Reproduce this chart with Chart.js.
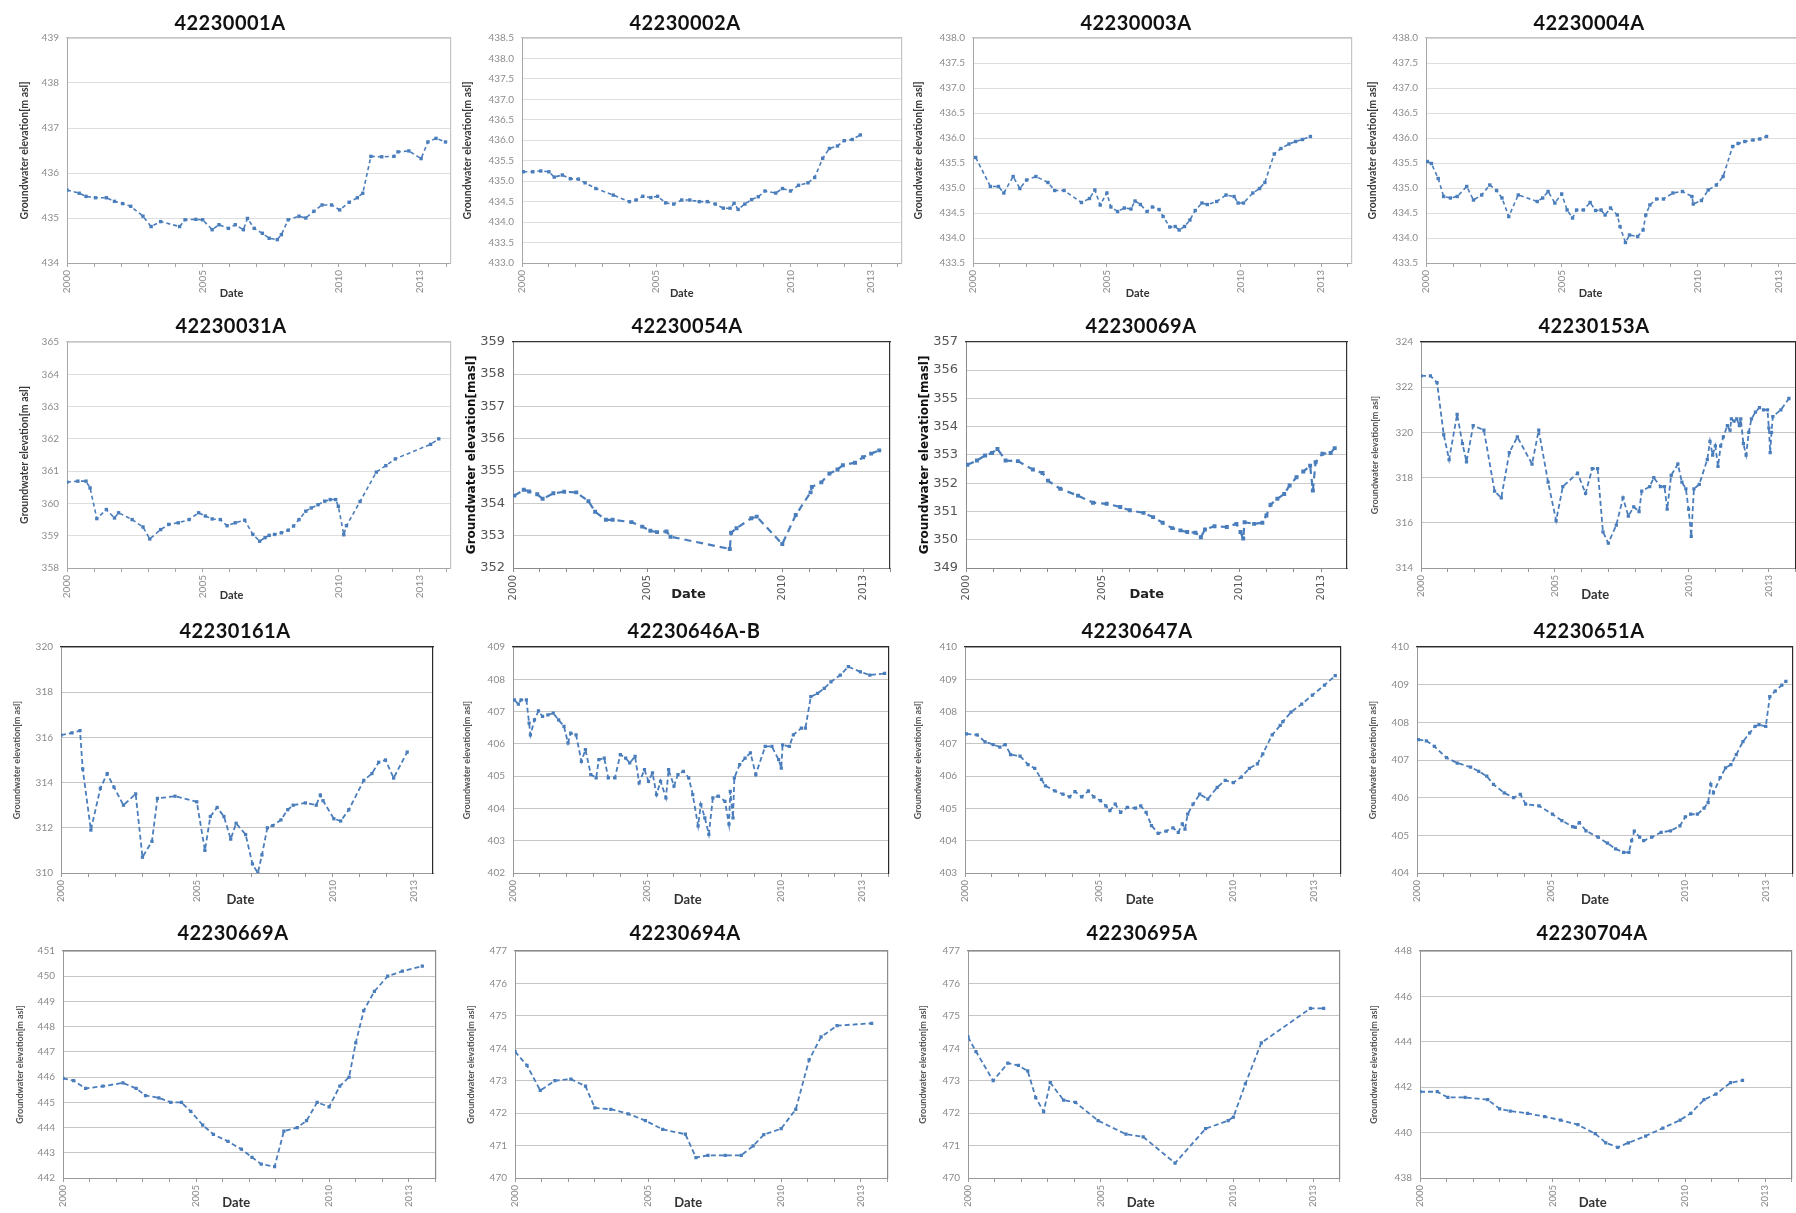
<!DOCTYPE html>
<html><head><meta charset="utf-8">
<script src="https://cdn.jsdelivr.net/npm/chart.js@4.4.1/dist/chart.umd.min.js"></script>
<style>
html,body{margin:0;padding:0;background:#fff;overflow:hidden;width:1796px;height:1213px;position:relative}
canvas{position:absolute}
.ttl{position:absolute;transform:translate(-50%,-50%);font-family:Lato,'Open Sans',sans-serif;font-weight:bold;font-size:20px;letter-spacing:0.5px;color:#111;white-space:nowrap}
</style></head><body>
<script>
// ---------- DATA ----------
const X_TICK_LABELS = [2000, 2005, 2010, 2013];
const YEARS = [2000,2001,2002,2003,2004,2005,2006,2007,2008,2009,2010,2011,2012,2013,2014];

const t_42230001A = [2000.0,2000.45,2000.7,2001.05,2001.45,2001.75,2002.05,2002.35,2002.8,2003.1,2003.45,2004.15,2004.35,2004.75,2005.0,2005.35,2005.6,2005.95,2006.2,2006.5,2006.65,2006.9,2007.2,2007.45,2007.75,2007.9,2008.15,2008.55,2008.8,2009.1,2009.4,2009.75,2010.05,2010.4,2010.7,2010.9,2011.2,2011.6,2012.05,2012.2,2012.6,2013.05,2013.3,2013.6,2013.95];
const v_42230001A = [435.62,435.55,435.48,435.45,435.45,435.37,435.32,435.26,435.04,434.81,434.92,434.81,434.96,434.97,434.96,434.74,434.85,434.77,434.85,434.74,434.99,434.77,434.66,434.55,434.52,434.63,434.96,435.04,435.0,435.15,435.29,435.29,435.18,435.35,435.45,435.55,436.37,436.36,436.37,436.47,436.49,436.32,436.69,436.77,436.69];

const t_42230002A = [2000.05,2000.4,2000.7,2001.0,2001.2,2001.5,2001.8,2002.1,2002.35,2002.75,2003.4,2004.0,2004.25,2004.5,2004.8,2005.05,2005.35,2005.65,2005.95,2006.25,2006.6,2006.9,2007.2,2007.5,2007.75,2007.9,2008.05,2008.3,2008.55,2008.8,2009.05,2009.45,2009.7,2010.0,2010.3,2010.65,2010.9,2011.2,2011.45,2011.75,2012.0,2012.3,2012.6];
const v_42230002A = [435.23,435.23,435.25,435.23,435.1,435.15,435.06,435.05,434.96,434.82,434.66,434.5,434.54,434.63,434.6,434.63,434.47,434.44,434.54,434.54,434.5,434.5,434.44,434.34,434.34,434.46,434.31,434.44,434.55,434.62,434.76,434.71,434.82,434.76,434.9,434.96,435.09,435.56,435.8,435.86,435.99,436.02,436.13];

const t_42230003A = [2000.1,2000.65,2000.95,2001.15,2001.5,2001.75,2002.0,2002.35,2002.8,2003.05,2003.4,2004.05,2004.35,2004.55,2004.75,2005.0,2005.15,2005.4,2005.65,2005.9,2006.05,2006.25,2006.5,2006.7,2006.95,2007.1,2007.35,2007.55,2007.7,2007.9,2008.1,2008.3,2008.55,2008.75,2009.1,2009.45,2009.75,2009.9,2010.1,2010.45,2010.7,2010.9,2011.25,2011.5,2011.8,2012.05,2012.3,2012.6];
const v_42230003A = [435.61,435.03,435.03,434.9,435.23,434.99,435.16,435.23,435.11,434.95,434.95,434.71,434.79,434.96,434.66,434.9,434.62,434.53,434.6,434.58,434.74,434.67,434.53,434.62,434.57,434.43,434.22,434.23,434.16,434.23,434.36,434.55,434.7,434.67,434.73,434.86,434.83,434.7,434.7,434.9,434.99,435.11,435.68,435.79,435.88,435.93,435.97,436.03];

const t_42230004A = [2000.05,2000.2,2000.45,2000.65,2000.9,2001.15,2001.5,2001.75,2002.05,2002.35,2002.6,2002.8,2003.05,2003.4,2004.1,2004.3,2004.5,2004.75,2005.0,2005.2,2005.4,2005.55,2005.8,2006.05,2006.25,2006.45,2006.6,2006.8,2007.05,2007.15,2007.35,2007.5,2007.8,2008.0,2008.1,2008.25,2008.5,2008.75,2009.1,2009.45,2009.8,2009.85,2010.15,2010.4,2010.7,2010.95,2011.3,2011.5,2011.75,2012.05,2012.3,2012.55];
const v_42230004A = [435.53,435.49,435.19,434.83,434.8,434.83,435.03,434.76,434.86,435.06,434.95,434.8,434.43,434.86,434.73,434.8,434.93,434.7,434.88,434.56,434.4,434.56,434.56,434.71,434.55,434.56,434.46,434.6,434.46,434.23,433.91,434.06,434.03,434.16,434.46,434.66,434.78,434.78,434.9,434.93,434.83,434.68,434.75,434.96,435.06,435.23,435.83,435.89,435.93,435.96,435.98,436.03];

const t_42230031A = [2000.0,2000.4,2000.7,2000.85,2001.1,2001.45,2001.75,2001.9,2002.4,2002.8,2003.05,2003.45,2003.75,2004.1,2004.5,2004.85,2005.1,2005.35,2005.65,2005.9,2006.2,2006.55,2006.85,2007.1,2007.3,2007.45,2007.65,2007.9,2008.15,2008.35,2008.55,2008.8,2009.0,2009.25,2009.5,2009.7,2009.9,2010.0,2010.2,2010.3,2010.8,2011.4,2011.75,2012.1,2013.4,2013.7];
const v_42230031A = [360.66,360.69,360.69,360.48,359.53,359.81,359.55,359.71,359.5,359.27,358.9,359.19,359.35,359.4,359.5,359.71,359.61,359.52,359.5,359.31,359.4,359.48,359.04,358.83,358.94,359.01,359.04,359.09,359.17,359.3,359.5,359.76,359.86,359.96,360.07,360.12,360.12,359.91,359.03,359.31,360.06,360.97,361.17,361.38,361.83,362.0];

const t_42230054A = [2000.05,2000.4,2000.6,2000.9,2001.1,2001.5,2001.9,2002.35,2002.8,2003.05,2003.45,2003.7,2004.4,2004.8,2005.1,2005.35,2005.7,2005.85,2008.05,2008.1,2008.3,2008.85,2009.05,2010.0,2010.5,2011.05,2011.1,2011.45,2011.75,2012.05,2012.25,2012.7,2013.0,2013.3,2013.6];
const v_42230054A = [354.24,354.42,354.37,354.28,354.14,354.31,354.36,354.34,354.07,353.74,353.49,353.49,353.42,353.28,353.15,353.11,353.13,352.97,352.59,353.09,353.23,353.54,353.59,352.74,353.64,354.34,354.51,354.65,354.92,355.05,355.18,355.26,355.43,355.54,355.64];

const t_42230069A = [2000.05,2000.4,2000.7,2000.95,2001.15,2001.45,2001.9,2002.45,2002.8,2003.0,2003.45,2004.1,2004.65,2005.15,2005.65,2006.0,2006.5,2006.85,2007.2,2007.55,2007.85,2008.1,2008.4,2008.6,2008.75,2009.1,2009.55,2009.9,2010.05,2010.15,2010.2,2010.55,2010.85,2011.0,2011.15,2011.4,2011.65,2011.85,2012.1,2012.35,2012.6,2012.7,2012.8,2013.05,2013.35,2013.5];
const v_42230069A = [352.65,352.8,352.98,353.07,353.21,352.8,352.78,352.48,352.36,352.09,351.8,351.56,351.31,351.27,351.16,351.04,350.95,350.8,350.6,350.41,350.33,350.27,350.25,350.09,350.36,350.48,350.45,350.56,350.27,350.04,350.62,350.56,350.6,350.86,351.24,351.45,351.62,351.92,352.21,352.41,352.62,351.74,352.74,353.04,353.07,353.24];

const t_42230153A = [2000.0,2000.35,2000.6,2000.85,2001.05,2001.35,2001.55,2001.7,2001.95,2002.35,2002.75,2003.0,2003.3,2003.6,2004.15,2004.4,2004.75,2005.05,2005.3,2005.85,2006.15,2006.4,2006.6,2006.8,2007.0,2007.3,2007.55,2007.75,2007.95,2008.15,2008.25,2008.55,2008.7,2008.95,2009.1,2009.2,2009.35,2009.6,2009.75,2009.9,2010.0,2010.1,2010.2,2010.4,2010.7,2010.8,2010.9,2011.0,2011.1,2011.2,2011.3,2011.45,2011.55,2011.6,2011.7,2011.8,2011.9,2011.95,2012.05,2012.15,2012.25,2012.35,2012.5,2012.65,2012.8,2012.95,2013.0,2013.05,2013.1,2013.15,2013.45,2013.75];
const v_42230153A = [322.5,322.5,322.2,319.9,318.8,320.8,319.5,318.7,320.3,320.1,317.4,317.1,319.1,319.8,318.6,320.1,317.8,316.1,317.6,318.2,317.3,318.4,318.4,315.6,315.1,315.9,317.1,316.3,316.7,316.5,317.4,317.6,318.0,317.6,317.6,316.6,318.1,318.6,317.8,317.5,316.6,315.4,317.5,317.7,318.8,319.6,319.0,319.4,318.5,319.4,319.8,320.3,320.1,320.6,320.5,320.6,320.3,320.6,319.5,319.0,320.0,320.6,320.9,321.1,321.0,321.0,320.2,319.1,320.0,320.7,321.0,321.5];

const t_42230161A = [2000.0,2000.4,2000.7,2000.8,2001.1,2001.45,2001.7,2001.95,2002.3,2002.75,2003.0,2003.35,2003.55,2004.2,2005.0,2005.3,2005.5,2005.75,2006.0,2006.25,2006.45,2006.8,2007.05,2007.25,2007.4,2007.6,2007.8,2008.1,2008.35,2008.55,2009.0,2009.4,2009.55,2009.65,2010.05,2010.3,2010.6,2011.15,2011.45,2011.7,2011.95,2012.25,2012.75];
const v_42230161A = [316.1,316.2,316.3,314.6,311.9,313.75,314.4,313.8,313.0,313.5,310.7,311.4,313.3,313.4,313.15,311.0,312.5,312.9,312.5,311.5,312.2,311.7,310.4,310.0,310.8,312.0,312.1,312.35,312.8,313.0,313.1,313.0,313.45,313.2,312.4,312.3,312.8,314.1,314.4,314.9,315.0,314.2,315.35];

const t_42230646AB = [2000.05,2000.2,2000.3,2000.5,2000.6,2000.65,2000.8,2000.95,2001.1,2001.3,2001.5,2001.7,2001.9,2002.05,2002.15,2002.35,2002.55,2002.7,2002.9,2003.1,2003.2,2003.4,2003.55,2003.8,2004.0,2004.2,2004.35,2004.55,2004.7,2004.9,2005.05,2005.2,2005.35,2005.5,2005.7,2005.8,2006.0,2006.15,2006.35,2006.55,2006.7,2006.9,2007.0,2007.15,2007.3,2007.45,2007.65,2007.9,2008.05,2008.1,2008.2,2008.25,2008.45,2008.65,2008.85,2009.05,2009.4,2009.65,2009.9,2010.0,2010.05,2010.3,2010.45,2010.75,2010.9,2011.1,2011.35,2011.6,2011.85,2012.2,2012.5,2012.95,2013.3,2013.85];
const v_42230646AB = [407.36,407.23,407.36,407.36,406.64,406.28,406.74,407.02,406.85,406.9,406.95,406.74,406.54,406.03,406.33,406.28,405.46,405.82,405.05,404.95,405.51,405.56,404.95,404.95,405.67,405.56,405.41,405.61,404.79,405.2,404.84,405.1,404.43,404.84,404.33,405.2,404.69,405.05,405.15,404.95,404.43,403.46,404.12,403.71,403.2,404.33,404.38,404.22,403.51,404.53,403.71,404.95,405.36,405.56,405.72,405.05,405.92,405.92,405.51,405.25,405.97,405.92,406.28,406.49,406.49,407.46,407.56,407.72,407.92,408.13,408.39,408.23,408.13,408.18];

const t_42230647A = [2000.05,2000.45,2000.75,2001.05,2001.3,2001.5,2001.7,2002.05,2002.35,2002.6,2002.85,2003.0,2003.35,2003.65,2003.9,2004.1,2004.35,2004.6,2004.8,2005.05,2005.25,2005.4,2005.6,2005.8,2006.05,2006.35,2006.55,2006.75,2006.95,2007.2,2007.5,2007.75,2007.95,2008.1,2008.2,2008.3,2008.5,2008.75,2009.05,2009.4,2009.7,2010.0,2010.3,2010.6,2010.9,2011.1,2011.45,2011.75,2011.85,2012.15,2012.55,2012.95,2013.4,2013.8];
const v_42230647A = [407.31,407.28,407.06,406.98,406.9,406.98,406.67,406.62,406.36,406.24,405.9,405.7,405.54,405.44,405.36,405.52,405.36,405.54,405.36,405.24,405.08,404.93,405.13,404.88,405.03,405.01,405.08,404.88,404.47,404.23,404.3,404.4,404.26,404.52,404.36,404.82,405.13,405.44,405.29,405.65,405.87,405.8,405.97,406.24,406.38,406.69,407.28,407.57,407.69,407.98,408.23,408.51,408.82,409.11];

const t_42230651A = [2000.05,2000.35,2000.65,2001.1,2001.5,2002.0,2002.3,2002.6,2002.85,2003.25,2003.6,2003.85,2004.05,2004.55,2005.05,2005.4,2005.8,2005.9,2006.05,2006.3,2006.75,2007.1,2007.4,2007.7,2007.9,2008.0,2008.1,2008.3,2008.45,2008.75,2009.1,2009.45,2009.8,2010.0,2010.2,2010.45,2010.7,2010.85,2010.95,2011.05,2011.3,2011.5,2011.7,2011.9,2012.15,2012.4,2012.6,2012.75,2013.0,2013.15,2013.35,2013.6,2013.75];
const v_42230651A = [407.54,407.51,407.36,407.06,406.92,406.81,406.7,406.57,406.35,406.13,406.0,406.09,405.83,405.78,405.56,405.39,405.23,405.21,405.34,405.12,404.95,404.79,404.64,404.55,404.55,404.86,405.11,404.95,404.86,404.95,405.08,405.12,405.25,405.49,405.56,405.56,405.72,405.87,406.35,406.13,406.53,406.79,406.88,407.14,407.49,407.72,407.89,407.94,407.89,408.68,408.83,408.99,409.09];

const t_42230669A = [2000.0,2000.4,2000.85,2001.5,2002.25,2002.75,2003.1,2003.6,2004.05,2004.45,2004.8,2005.25,2005.65,2006.2,2006.7,2007.1,2007.45,2007.95,2008.3,2008.8,2009.15,2009.55,2010.0,2010.4,2010.75,2011.0,2011.3,2011.7,2012.2,2012.75,2013.5];
const v_42230669A = [445.95,445.86,445.55,445.64,445.77,445.55,445.27,445.18,445.0,445.0,444.64,444.1,443.73,443.45,443.14,442.82,442.55,442.45,443.86,444.0,444.27,445.0,444.82,445.64,446.0,447.36,448.64,449.4,450.0,450.2,450.4];

const t_42230694A = [2000.0,2000.45,2000.95,2001.5,2002.1,2002.65,2003.0,2003.6,2004.25,2004.9,2005.55,2006.4,2006.8,2007.25,2007.9,2008.5,2008.95,2009.35,2010.0,2010.55,2011.05,2011.5,2012.1,2013.4];
const v_42230694A = [473.9,473.47,472.7,473.0,473.05,472.83,472.16,472.12,471.98,471.77,471.5,471.35,470.63,470.7,470.7,470.7,470.99,471.34,471.52,472.12,473.64,474.35,474.7,474.77];

const t_42230695A = [2000.0,2000.3,2000.95,2001.5,2001.9,2002.25,2002.55,2002.85,2003.1,2003.6,2004.05,2004.9,2005.95,2006.6,2007.8,2008.95,2009.8,2010.0,2010.45,2011.05,2012.9,2013.4];
const v_42230695A = [474.35,473.9,473.0,473.54,473.47,473.3,472.48,472.05,472.94,472.4,472.33,471.77,471.35,471.27,470.46,471.52,471.77,471.88,472.9,474.17,475.23,475.23];

const t_42230704A = [2000.0,2000.65,2001.05,2001.7,2002.55,2003.0,2003.4,2004.05,2004.7,2005.3,2005.95,2006.6,2007.0,2007.45,2007.85,2008.5,2009.15,2009.8,2010.2,2010.7,2011.15,2011.7,2012.15];
const v_42230704A = [441.8,441.8,441.55,441.55,441.45,441.05,440.95,440.85,440.7,440.55,440.35,439.95,439.55,439.35,439.55,439.85,440.2,440.55,440.85,441.45,441.7,442.2,442.3];

// ---------- STYLES & LAYOUT ----------
const BLUE = '#4a7dbb';
const STYLES = {
  A: {tick:{family:'Lato',size:10}, xtick:{family:'Lato',size:10}, tickColor:'#8c8c8c',
      yt:{family:'Lato',size:10.5,weight:'bold'}, ytColor:'#3a3a3a', ytText:'Groundwater elevation[m asl]',
      date:{family:'Lato',size:11,weight:'bold'}, dateColor:'#333',
      grid:'#dedede', axis:'#a6a6a6', frame:'#c4c4c4', lw:1.6, dash:[4,3], pr:2.4},
  B: {tick:{family:'DejaVu Sans',size:13}, xtick:{family:'DejaVu Sans',size:10}, tickColor:'#555',
      yt:{family:'DejaVu Sans',size:12,weight:'bold'}, ytColor:'#111', ytText:'Groundwater elevation[masl]',
      date:{family:'DejaVu Sans',size:13,weight:'bold'}, dateColor:'#222',
      grid:'#cccccc', axis:'#8a8a8a', frame:'#333', lw:2.2, dash:[7,5], pr:2.8},
  C: {tick:{family:'Lato',size:10}, xtick:{family:'Lato',size:9.5}, tickColor:'#8a8a8a',
      yt:{family:'Lato',size:9,weight:'bold'}, ytColor:'#555', ytText:'Groundwater elevation[m asl]',
      date:{family:'Lato',size:13,weight:'bold'}, dateColor:'#333',
      grid:'#c6c6c6', axis:'#999', frame:'#2a2a2a', lw:1.8, dash:[5,3], pr:2.3},
  D: {tick:{family:'Lato',size:10}, xtick:{family:'Lato',size:9.5}, tickColor:'#8a8a8a',
      yt:{family:'Lato',size:9,weight:'bold'}, ytColor:'#555', ytText:'Groundwater elevation[m asl]',
      date:{family:'Lato',size:13,weight:'bold'}, dateColor:'#333',
      grid:'#c6c6c6', axis:'#999', frame:'#8c8c8c', lw:1.8, dash:[5,3], pr:2.3}
};

const panels = [
  {name:'42230001A', t:t_42230001A, v:v_42230001A, ymin:434, ymax:439, step:1, dec:0, style:'A', pl:67, pr:452, pt:38, pb:263, xmax:2014.15, tx:230, ty:22, yd:42, dd:30, ds:-28},
  {name:'42230002A', t:t_42230002A, v:v_42230002A, ymin:433, ymax:438.5, step:0.5, dec:1, style:'A', pl:522, pr:903, pt:38, pb:263, xmax:2014.15, tx:685, ty:22, yd:54, dd:30, ds:-29},
  {name:'42230003A', t:t_42230003A, v:v_42230003A, ymin:433.5, ymax:438, step:0.5, dec:1, style:'A', pl:973, pr:1353, pt:38, pb:263, xmax:2014.15, tx:1136, ty:22, yd:54, dd:30, ds:-26},
  {name:'42230004A', t:t_42230004A, v:v_42230004A, ymin:433.5, ymax:438, step:0.5, dec:1, style:'A', pl:1426, pr:1811, pt:38, pb:263, xmax:2014.15, tx:1589, ty:22, yd:53, dd:30, ds:-28},

  {name:'42230031A', t:t_42230031A, v:v_42230031A, ymin:358, ymax:365, step:1, dec:0, style:'A', pl:67, pr:452, pt:342, pb:568, xmax:2014.15, tx:231, ty:325, yd:42, dd:27, ds:-27},
  {name:'42230054A', t:t_42230054A, v:v_42230054A, ymin:352, ymax:359, step:1, dec:0, style:'B', pl:513, pr:895, pt:342, pb:568, xmax:2014.0, tx:687, ty:325, yd:41, dd:27, ds:-12},
  {name:'42230069A', t:t_42230069A, v:v_42230069A, ymin:349, ymax:357, step:1, dec:0, style:'B', pl:966, pr:1347, pt:342, pb:568, xmax:2013.95, tx:1141, ty:325, yd:41, dd:27, ds:-11},
  {name:'42230153A', t:t_42230153A, v:v_42230153A, ymin:314, ymax:324, step:2, dec:0, style:'C', pl:1421, pr:1800, pt:342, pb:568, xmax:2014.0, tx:1594, ty:325, yd:46, dd:27, ds:-12},

  {name:'42230161A', t:t_42230161A, v:v_42230161A, ymin:310, ymax:320, step:2, dec:0, style:'C', pl:61, pr:433, pt:647, pb:873, xmax:2013.7, tx:235, ty:630, yd:44, dd:27, ds:-8},
  {name:'42230646A-B', t:t_42230646AB, v:v_42230646AB, ymin:402, ymax:409, step:1, dec:0, style:'C', pl:513, pr:893, pt:647, pb:873, xmax:2014.0, tx:694, ty:630, yd:46, dd:27, ds:-13},
  {name:'42230647A', t:t_42230647A, v:v_42230647A, ymin:403, ymax:410, step:1, dec:0, style:'C', pl:965, pr:1345, pt:647, pb:873, xmax:2014.0, tx:1137, ty:630, yd:47, dd:27, ds:-12},
  {name:'42230651A', t:t_42230651A, v:v_42230651A, ymin:404, ymax:410, step:1, dec:0, style:'C', pl:1417, pr:1797, pt:647, pb:873, xmax:2014.0, tx:1589, ty:630, yd:44, dd:27, ds:-9},

  {name:'42230669A', t:t_42230669A, v:v_42230669A, ymin:442, ymax:451, step:1, dec:0, style:'D', pl:63, pr:440, pt:951, pb:1178, xmax:2014.0, tx:233, ty:932, yd:43, dd:25, ds:-13},
  {name:'42230694A', t:t_42230694A, v:v_42230694A, ymin:470, ymax:477, step:1, dec:0, style:'D', pl:515, pr:892, pt:951, pb:1178, xmax:2014.0, tx:685, ty:932, yd:44, dd:25, ds:-13},
  {name:'42230695A', t:t_42230695A, v:v_42230695A, ymin:470, ymax:477, step:1, dec:0, style:'D', pl:968, pr:1344, pt:951, pb:1178, xmax:2014.0, tx:1142, ty:932, yd:45, dd:25, ds:-13},
  {name:'42230704A', t:t_42230704A, v:v_42230704A, ymin:438, ymax:448, step:2, dec:0, style:'D', pl:1420, pr:1796, pt:951, pb:1178, xmax:2014.0, tx:1592, ty:932, yd:46, dd:25, ds:-13}
];

// ---------- BUILD ----------
const YW = 62, XH = 44, PR = 10;
Chart.defaults.font.family = 'Lato';

function chartConfig(p, st) {
  const n = Math.min(p.t.length, p.v.length);
  const pts = [];
  for (let i = 0; i < n; i++) pts.push({x: p.t[i], y: p.v[i]});
  const ytLH = st.yt.size * 1.2;
  const ytPad = YW - p.yd - ytLH / 2;
  const dLH = st.date.size * 1.2;
  const dPad = XH - p.dd - dLH / 2;
  const nSp = Math.max(0, Math.round(-2 * p.ds / (0.5 * st.date.size)));
  const dateText = 'Date' + '\u2002'.repeat(nSp);
  return {
    type: 'line',
    data: {datasets: [{
      data: pts, borderColor: BLUE, backgroundColor: BLUE,
      borderWidth: st.lw, borderDash: st.dash, pointStyle: 'rect',
      pointRadius: st.pr, pointBorderWidth: 0, pointBackgroundColor: BLUE,
      tension: 0, fill: false
    }]},
    options: {
      responsive: false, maintainAspectRatio: false, animation: false, devicePixelRatio: 1,
      layout: {padding: {top: 0, right: PR, left: 0, bottom: 0}},
      plugins: {legend: {display: false}, tooltip: {enabled: false}},
      scales: {
        x: {
          type: 'linear', position: 'bottom', min: 2000, max: p.xmax,
          afterBuildTicks: s => { s.ticks = YEARS.filter(y => y <= p.xmax).map(v => ({value: v})); },
          afterFit: s => { s.height = XH; },
          ticks: {autoSkip: false, minRotation: 90, maxRotation: 90, padding: 3,
                  font: st.xtick, color: st.tickColor,
                  callback: v => X_TICK_LABELS.includes(v) ? String(v) : ''},
          grid: {drawOnChartArea: false, drawTicks: true, tickLength: 4, color: st.axis},
          border: {color: st.axis, width: 1},
          title: {display: true, text: dateText, font: st.date, color: st.dateColor,
                  padding: {top: 0, bottom: dPad}}
        },
        y: {
          type: 'linear', position: 'left', min: p.ymin, max: p.ymax,
          afterFit: s => { s.width = YW; },
          ticks: {stepSize: p.step, padding: 8, font: st.tick, color: st.tickColor,
                  callback: v => Number(v).toFixed(p.dec)},
          grid: {color: st.grid, drawTicks: false, lineWidth: 1},
          border: {color: st.axis, width: 1},
          title: {display: true, text: st.ytText, font: st.yt, color: st.ytColor,
                  padding: {top: ytPad, bottom: 0}}
        },
        x2: {
          type: 'linear', position: 'top', min: 2000, max: p.xmax, display: true,
          ticks: {display: false}, grid: {display: false, drawTicks: false},
          border: {display: true, color: st.frame, width: 1.2},
          afterFit: s => { s.height = 0; }
        },
        y2: {
          type: 'linear', position: 'right', min: p.ymin, max: p.ymax, display: true,
          ticks: {display: false}, grid: {display: false, drawTicks: false},
          border: {display: true, color: st.frame, width: 1.2},
          afterFit: s => { s.width = 0; }
        }
      }
    }
  };
}

function makeCanvas(W, H) {
  const cv = document.createElement('canvas');
  cv.width = W; cv.height = H;
  cv.style.width = W + 'px'; cv.style.height = H + 'px';
  document.body.appendChild(cv);
  return cv;
}

function build(p) {
  const st = STYLES[p.style];
  const W = YW + (p.pr - p.pl) + PR;
  const ph = p.pb - p.pt;

  // pass 1: find where Chart.js puts the top of the plot area
  const probe = makeCanvas(W, ph + XH + 20);
  const c1 = new Chart(probe, chartConfig(p, st));
  const T = c1.chartArea.top;
  c1.destroy();
  probe.remove();

  // pass 2: size the canvas so that the plot area spans exactly pt..pb
  const H = Math.round(T + ph + XH);
  const cv = makeCanvas(W, H);
  cv.style.left = (p.pl - YW) + 'px';
  const ch = new Chart(cv, chartConfig(p, st));
  cv.style.top = (p.pt - ch.chartArea.top) + 'px';

  const ttl = document.createElement('div');
  ttl.className = 'ttl';
  ttl.textContent = p.name;
  ttl.style.left = p.tx + 'px';
  ttl.style.top = p.ty + 'px';
  document.body.appendChild(ttl);
}

panels.forEach(build);
</script>
</body></html>
